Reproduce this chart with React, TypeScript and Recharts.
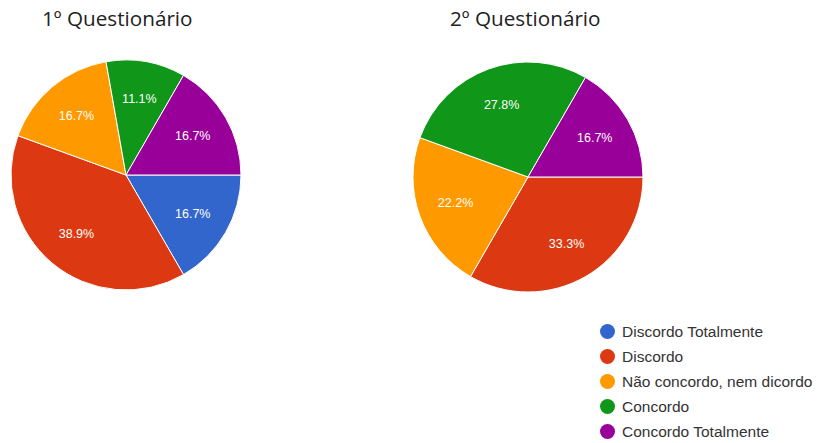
import React from 'react';
import { PieChart, Pie, Cell, Legend } from 'recharts';

const categories = [
  'Discordo Totalmente',
  'Discordo',
  'Não concordo, nem dicordo',
  'Concordo',
  'Concordo Totalmente',
];
const q1Counts = [3, 7, 3, 2, 3];
const q2Counts = [0, 6, 4, 5, 3];
const colors = ['#3366cc', '#dc3912', '#ff9900', '#109618', '#990099'];
const titles = ['1º Questionário', '2º Questionário'];

const q1Data = categories.map((name, i) => ({ name, value: q1Counts[i] }));
const q2Data = categories.map((name, i) => ({ name, value: q2Counts[i] }));

const RADIAN = Math.PI / 180;
const renderLabel = (props: any) => {
  const { cx, cy, midAngle, outerRadius, percent, value } = props;
  if (!value) return null;
  const r = outerRadius * 0.67;
  const x = cx + r * Math.cos(-midAngle * RADIAN);
  const y = cy + r * Math.sin(-midAngle * RADIAN);
  return (
    <text
      x={x}
      y={y}
      fill="#ffffff"
      textAnchor="middle"
      dominantBaseline="central"
      fontFamily="Arial, 'Liberation Sans', sans-serif"
      fontSize={12.5}
    >
      {(percent * 100).toFixed(1) + '%'}
    </text>
  );
};

const LegendContent = () => (
  <div style={{ fontFamily: "Arial, 'Liberation Sans', sans-serif" }}>
    {categories.map((c, i) => (
      <div key={c} style={{ display: 'flex', alignItems: 'center', height: 25 }}>
        <span
          style={{
            display: 'inline-block',
            width: 15,
            height: 15,
            borderRadius: '50%',
            background: colors[i],
            marginRight: 7,
          }}
        />
        <span style={{ fontSize: 15.5, color: '#333' }}>{c}</span>
      </div>
    ))}
  </div>
);

export default function App() {
  return (
    <div style={{ position: 'absolute', left: 0, top: 0, width: 819, height: 443, background: '#fff' }}>
      <div
        style={{
          position: 'absolute',
          left: 42,
          top: 4,
          fontFamily: "'Open Sans', sans-serif",
          fontSize: 20.7,
          color: '#222',
          whiteSpace: 'nowrap',
        }}
      >
        {titles[0]}
      </div>
      <div
        style={{
          position: 'absolute',
          left: 450,
          top: 4,
          fontFamily: "'Open Sans', sans-serif",
          fontSize: 20.7,
          color: '#222',
          whiteSpace: 'nowrap',
        }}
      >
        {titles[1]}
      </div>
      <PieChart width={819} height={443} style={{ position: 'absolute', left: 0, top: 0 }}>
        <Pie
          data={q1Data}
          dataKey="value"
          nameKey="name"
          cx={121}
          cy={170}
          outerRadius={115}
          startAngle={0}
          endAngle={-360}
          stroke="#ffffff"
          strokeWidth={1}
          label={renderLabel}
          labelLine={false}
          isAnimationActive={false}
        >
          {q1Data.map((d, i) => (
            <Cell key={d.name} fill={colors[i]} />
          ))}
        </Pie>
        <Pie
          data={q2Data}
          dataKey="value"
          nameKey="name"
          cx={523}
          cy={172}
          outerRadius={115}
          startAngle={0}
          endAngle={-360}
          stroke="#ffffff"
          strokeWidth={1}
          label={renderLabel}
          labelLine={false}
          isAnimationActive={false}
        >
          {q2Data.map((d, i) => (
            <Cell key={d.name} fill={colors[i]} />
          ))}
        </Pie>
        <Legend
          content={LegendContent}
          wrapperStyle={{ position: 'absolute', left: 600, top: 319, width: 219, bottom: 'auto' }}
        />
      </PieChart>
    </div>
  );
}
